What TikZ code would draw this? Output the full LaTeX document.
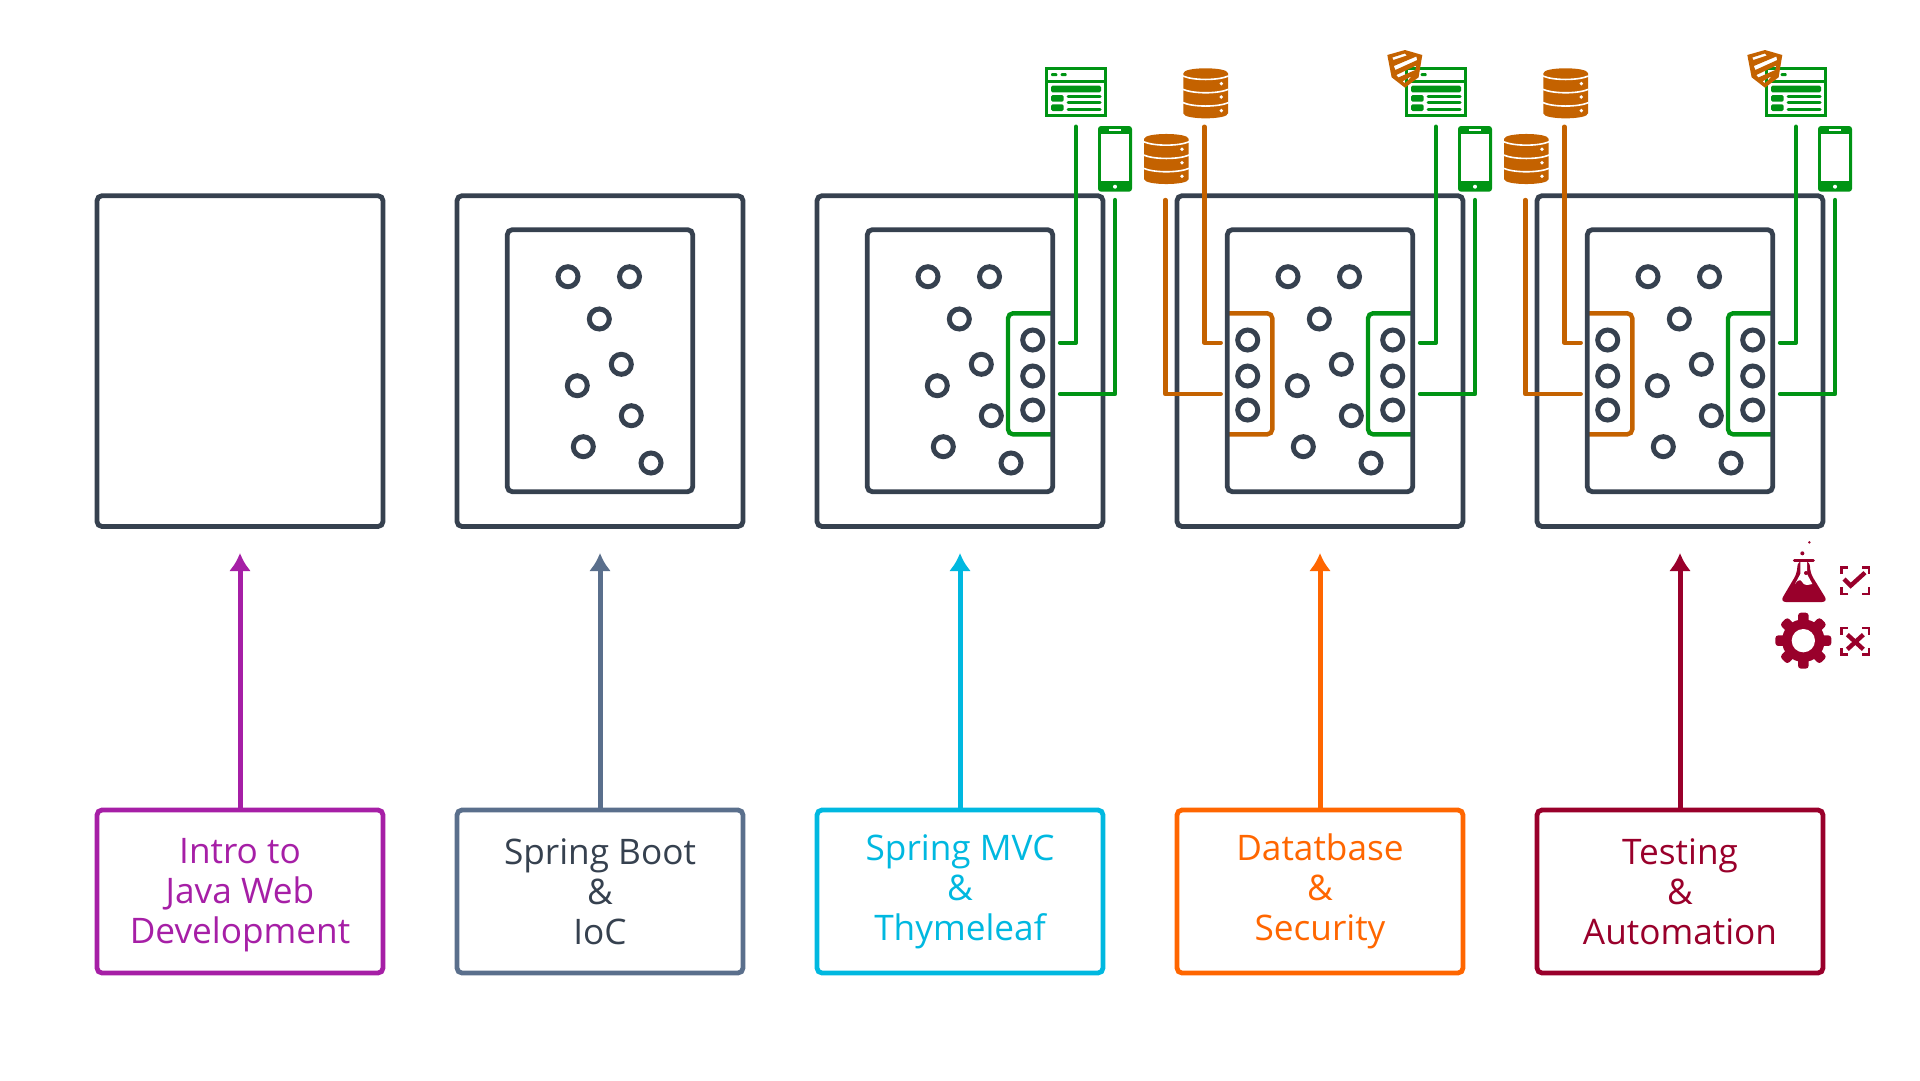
\documentclass[tikz,border=0pt]{standalone}
\usepackage{fontspec}
\setmainfont{Open Sans}
\usetikzlibrary{arrows.meta}
\definecolor{slatedark}{HTML}{36414F}
\definecolor{slatemid}{HTML}{5A6F8C}
\definecolor{introcol}{HTML}{A61FA6}
\definecolor{mvccol}{HTML}{00B8E0}
\definecolor{datacol}{HTML}{FF6600}
\definecolor{testcol}{HTML}{99002B}
\definecolor{webgreen}{HTML}{009414}
\definecolor{dbbrown}{HTML}{C46200}
\tikzset{>={Latex[length=18pt,width=22pt]}}
\tikzset{
    boxouter/.style={draw=slatedark, line width=4.8pt, rounded corners=5pt, minimum width=286pt, minimum height=330.8pt, outer sep=0pt},
    boxinner/.style={draw=slatedark, line width=4.8pt, rounded corners=5pt, minimum width=185.4pt, minimum height=262pt, outer sep=0pt},
    boxlabel/.style={draw=#1, line width=4.8pt, rounded corners=5pt, minimum width=286pt, minimum height=163pt, outer sep=0pt},
    textlabel/.style={text=#1, align=center, inner sep=0pt, font=\fontsize{35.2}{40}\selectfont},
    dot/.style={circle, draw=slatedark, line width=5pt, minimum size=20pt, inner sep=0pt, outer sep=0pt},
    wire/.style={line width=4.4pt, line cap=round, line join=round},
    bracket/.style={line width=4.4pt, rounded corners=5pt},
    arrowup/.style={->, line width=5pt, color=#1, shorten >=26.5pt},
    webpage/.pic={
        \draw[webgreen, line width=3pt] (1.3,1.3) rectangle (60.7,48.7);
        \draw[webgreen, line width=3pt] (1.3,14) -- (60.7,14);
        \fill[webgreen, rounded corners=1pt] (6,6.2) rectangle (12.3,9.2) (15.7,6.2) rectangle (21.7,9.2);
        \fill[webgreen, rounded corners=1.5pt] (6,18.7) rectangle (56,25.3) (6,28) rectangle (18.7,34.7) (6,37.3) rectangle (18.7,44);
        \draw[webgreen, line width=3pt, line cap=round] (23,29.7) -- (55,29.7) (23,35.9) -- (55,35.9) (23,42) -- (55,42);
    },
    phone/.pic={
        \fill[webgreen, rounded corners=3pt] (0,0) rectangle (34,65.7);
        \fill[white] (3,7.7) rectangle (31.3,55.3);
        \fill[white] (11.3,3.3) rectangle (23,4.8);
        \fill[white] (17,60.7) circle [radius=2];
    },
    dbstack/.pic={
        \fill[dbbrown] (0,5) .. controls (0,-1.7) and (44.7,-1.7) .. (44.7,5) -- (44.7,45) .. controls (44.7,51.7) and (0,51.7) .. (0,45) -- cycle;
        \foreach \y in {7.7,21,34.3} {
            \draw[white, line width=1.6pt] (-0.5,\y) .. controls (10,\y+4.6) and (34.7,\y+4.6) .. (45.2,\y);
        }
        \foreach \y in {15.3,28.7,42.3} {
            \fill[white] (38,\y) circle [radius=1.9];
        }
    },
    shield/.pic={
        \fill[dbbrown, even odd rule] (17.7,0) -- (35,5) -- (31.3,27.3) -- (17.7,37.7) -- (4.3,27.3) -- (0,5) -- cycle
            (5,7.5) -- (17.5,3.5) -- (19.5,5.5) -- (6,10) -- cycle
            (6.5,16) -- (29,6.5) -- (30,10) -- (8,20) -- cycle
            (9,25) -- (29,15.5) -- (28,20) -- (11,27.5) -- cycle
            (15,31.5) -- (24.5,26) -- (21,30) -- (17.7,33) -- cycle;
    },
}

\begin{document}
\begin{tikzpicture}[x=1pt, y=-1pt]
    \useasboundingbox (0,0) rectangle (1920,1080);

    % outer boxes and labels
    \foreach \n/\cx in {1/240, 2/600, 3/960, 4/1320, 5/1680} {
        \node[boxouter] (box\n) at (\cx,361.1) {};
    }
    \node[boxlabel=introcol] (intro) at (240,891.5) {};
    \node[boxlabel=slatemid] (boot) at (600,891.5) {};
    \node[boxlabel=mvccol] (mvc) at (960,891.5) {};
    \node[boxlabel=datacol] (data) at (1320,891.5) {};
    \node[boxlabel=testcol] (test) at (1680,891.5) {};

    \node[textlabel=introcol] (introtext) at (240,895.5) {Intro to\\Java Web\\Development};
    \node[textlabel=slatedark] (boottext) at (600,891.5) {Spring Boot\\\&\\IoC};
    \node[textlabel=mvccol] (mvctext) at (960,891.5) {Spring MVC\\\&\\Thymeleaf};
    \node[textlabel=datacol] (datatext) at (1320,891) {Datatbase\\\&\\Security};
    \node[textlabel=testcol] (testtext) at (1680,891.5) {Testing\\\&\\Automation};

    \draw[arrowup=introcol] (intro.north) -- (box1.south);
    \draw[arrowup=slatemid] (boot.north) -- (box2.south);
    \draw[arrowup=mvccol] (mvc.north) -- (box3.south);
    \draw[arrowup=datacol] (data.north) -- (box4.south);
    \draw[arrowup=testcol] (test.north) -- (box5.south);

    % brackets go under the inner boxes
    \foreach \cx in {960, 1320, 1680} {
        \draw[bracket, webgreen] (\cx+92,313.3) -- (\cx+48,313.3) -- (\cx+48,434.3) -- (\cx+92,434.3);
    }
    \foreach \cx in {1320, 1680} {
        \draw[bracket, dbbrown] (\cx-92,313.3) -- (\cx-47.7,313.3) -- (\cx-47.7,434.3) -- (\cx-92,434.3);
    }

    % inner boxes with their circles
    \foreach \n/\cx in {2/600, 3/960, 4/1320, 5/1680} {
        \node[boxinner] (inner\n) at (\cx,360.7) {};
        \foreach \i/\dx/\y in {1/-32/276.7, 2/29.5/276.7, 3/-0.7/319, 4/21.3/364.3, 5/-22.7/385.7, 6/31.3/415.7, 7/-16.7/446.7, 8/51/463} {
            \node[dot] (dot\n-\i) at (\cx+\dx,\y) {};
        }
    }
    \foreach \n/\cx in {3/960, 4/1320, 5/1680} {
        \foreach \i/\y in {1/340, 2/376, 3/410} {
            \node[dot] (web\n-\i) at (\cx+72.7,\y) {};
        }
    }
    \foreach \n/\cx in {4/1320, 5/1680} {
        \foreach \i/\y in {1/340, 2/376, 3/410} {
            \node[dot] (db\n-\i) at (\cx-72.3,\y) {};
        }
    }

    % green wires and icons
    \foreach \n/\cx in {3/960, 4/1320, 5/1680} {
        \coordinate (pagetop\n) at (\cx+116,126.7);
        \coordinate (pageend\n) at (\cx+100,342.7);
        \coordinate (phonetop\n) at (\cx+155,200);
        \coordinate (phoneend\n) at (\cx+100,394);
        \draw[wire, webgreen] (pagetop\n) |- (pageend\n);
        \draw[wire, webgreen] (phonetop\n) |- (phoneend\n);
        \pic at (\cx+85,67) {webpage};
        \pic at (\cx+138,126) {phone};
    }

    % brown wires and icons
    \foreach \n/\cx in {4/1320, 5/1680} {
        \coordinate (storetop\n) at (\cx-115.7,126.7);
        \coordinate (storeend\n) at (\cx-99.3,342.7);
        \coordinate (sqltop\n) at (\cx-154.7,200);
        \coordinate (sqlend\n) at (\cx-99.3,394);
        \draw[wire, dbbrown] (storetop\n) |- (storeend\n);
        \draw[wire, dbbrown] (sqltop\n) |- (sqlend\n);
        \pic at (\cx-136.7,68.3) {dbstack};
        \pic at (\cx-176,134) {dbstack};
        \pic at (\cx+67.3,50) {shield};
    }

    % test icons, in a third of a pixel
    \begin{scope}[shift={(1760,530)}, x=0.3333pt, y=-0.3333pt]
        \fill[testcol] (148,37) circle [radius=4];
        \fill[testcol] (127,70) circle [radius=6];
        \draw[testcol, line width=3pt, line cap=round] (103,92) -- (160,92);
        \fill[testcol, rounded corners=6pt] (112,92) -- (112,128) -- (60,216) -- (204,216) -- (150,128) -- (150,92) -- cycle;
        \fill[white] (121,96) -- (121,132) -- (105,162) .. controls (112,150) and (122,145) .. (128,158) .. controls (132,166) and (142,166) .. (157,162) -- (141,132) -- (141,96) -- cycle;
        \fill[testcol] (138,129) circle [radius=6];

        \begin{scope}[shift={(130,332)}]
            \foreach \a in {0,45,...,315} {
                \fill[testcol, rotate=\a, rounded corners=3pt] (-16,-84) rectangle (16,-40);
            }
            \fill[testcol] (0,0) circle [radius=64];
            \fill[white] (0,0) circle [radius=35];
        \end{scope}

        \foreach \y in {112,294} {
            \draw[testcol, line width=2.4pt] (245,\y+20) -- (245,\y) -- (265,\y);
            \draw[testcol, line width=2.4pt] (307,\y) -- (327,\y) -- (327,\y+20);
            \draw[testcol, line width=2.4pt] (327,\y+60) -- (327,\y+80) -- (307,\y+80);
            \draw[testcol, line width=2.4pt] (265,\y+80) -- (245,\y+80) -- (245,\y+60);
        }
        \draw[testcol, line width=4.4pt] (252,147) -- (272,167) -- (315,128);
        \draw[testcol, line width=4.4pt] (262,314) -- (310,358);
        \draw[testcol, line width=4.4pt] (310,314) -- (262,358);
    \end{scope}
\end{tikzpicture}
\end{document}
